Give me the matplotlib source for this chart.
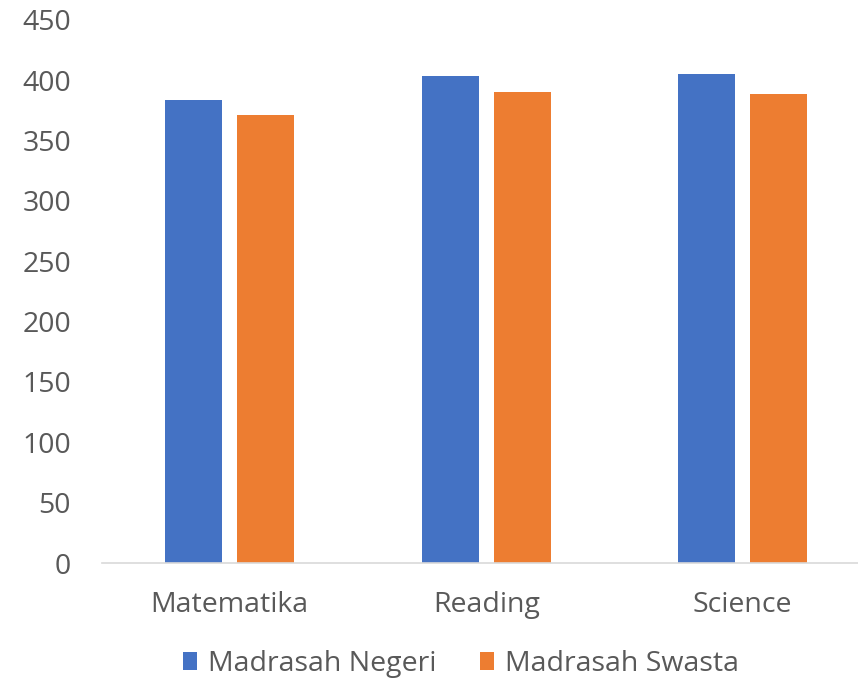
import numpy as np
import matplotlib.pyplot as plt

categories = ["Matematika", "Reading", "Science"]
negeri = [384, 404, 405]
swasta = [371, 390, 389]
series_names = ["Madrasah Negeri", "Madrasah Swasta"]

plt.rcParams['font.family'] = ['Open Sans', 'DejaVu Sans']

fig = plt.figure(figsize=(8.58, 6.80), dpi=100)
ax = fig.add_axes([101.5 / 858, 117 / 680, 769.5 / 858, 543 / 680])

x = np.arange(len(categories))
w = 0.222
off = 0.141
ax.bar(x - off, negeri, w, color='#4472C4', label=series_names[0])
ax.bar(x + off, swasta, w, color='#ED7D31', label=series_names[1])

ax.set_xlim(-0.5, len(categories) - 0.5)
ax.set_ylim(0, 450)
ax.set_yticks(np.arange(0, 451, 50))
ax.set_xticks(x)
ax.set_xticklabels(categories)

for s in ['top', 'right', 'left']:
    ax.spines[s].set_visible(False)
ax.spines['bottom'].set_color('#D9D9D9')
ax.spines['bottom'].set_linewidth(1.2)
ax.tick_params(axis='both', length=0, labelsize=20.5, colors='#595959')
ax.tick_params(axis='y', pad=22)
ax.tick_params(axis='x', pad=20)

fig.legend(loc='center', bbox_to_anchor=(461 / 858, (680 - 664) / 680), ncol=2,
           frameon=False, fontsize=20.5, labelcolor='#595959',
           handlelength=0.5, handleheight=0.55, handletextpad=0.38,
           columnspacing=1.55, borderpad=0.2)

fig.savefig('out.png', dpi=100)
